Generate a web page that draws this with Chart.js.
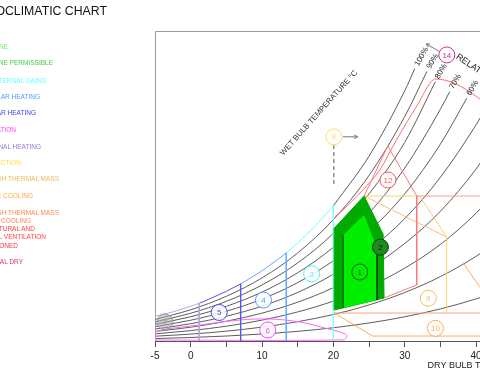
<!DOCTYPE html>
<html>
<head>
<meta charset="utf-8">
<title>Bioclimatic chart</title>
<script src="https://cdn.jsdelivr.net/npm/chart.js@4.4.1/dist/chart.umd.min.js"></script>
<style>
  html, body { margin: 0; padding: 0; background: #fff; }
  #page { position: relative; width: 480px; height: 380px; overflow: hidden; }
  #chart { position: absolute; left: 0; top: 0; }
  .note { position: absolute; width: 300px; text-align: right; white-space: nowrap;
          font-family: 'Liberation Sans', Arial, sans-serif; }
</style>
</head>
<body>
<div id="page">
  <canvas id="chart" width="560" height="380"></canvas>
</div>
<script>
// dry bulb temperature axis (deg C)
const temperatureTicks = [-5, 0, 5, 10, 15, 20, 25, 30, 35, 40, 45, 50];
const labelledTicks = [-5, 0, 10, 20, 30, 40];

// relative humidity curves, [dry bulb, humidity ratio g/kg]
const rhLabels = ['100%', '90%', '80%', '70%', '60%', '50%', '40%', '30%', '20%', '10%'];
const rh100 = [[20, 14.7], [25, 20.1], [30, 27.2], [31.4, 29.6]];
const rh90 = [[-5, 2.34], [0, 3.4], [5, 4.86], [10, 6.86], [15, 9.57], [20, 13.2], [25, 18.0], [30, 24.4], [33.1, 29.3]];
const rh80 = [[-5, 2.08], [0, 3.02], [5, 4.31], [10, 6.09], [15, 8.49], [20, 11.7], [25, 16.0], [30, 21.6], [34.3, 28.2]];
const rh70 = [[-5, 1.82], [0, 2.64], [5, 3.77], [10, 5.32], [15, 7.42], [20, 10.2], [25, 13.9], [30, 18.8], [35, 25.2], [36.3, 27.1]];
const rh60 = [[-5, 1.56], [0, 2.26], [5, 3.23], [10, 4.56], [15, 6.35], [20, 8.73], [25, 11.9], [30, 16.0], [35, 21.4], [38.7, 26.4]];
const rh50 = [[-5, 1.3], [0, 1.88], [5, 2.69], [10, 3.79], [15, 5.28], [20, 7.26], [25, 9.88], [30, 13.3], [35, 17.8], [40, 23.5], [41.6, 25.6]];
const rh40 = [[-5, 1.04], [0, 1.5], [5, 2.15], [10, 3.03], [15, 4.22], [20, 5.8], [25, 7.88], [30, 10.6], [35, 14.1], [40, 18.7], [45, 24.5]];
const rh30 = [[-5, 0.78], [0, 1.13], [5, 1.61], [10, 2.27], [15, 3.16], [20, 4.34], [25, 5.89], [30, 7.92], [35, 10.5], [40, 13.9], [45, 18.2], [50, 23.5]];
const rh20 = [[-5, 0.52], [0, 0.75], [5, 1.07], [10, 1.51], [15, 2.1], [20, 2.88], [25, 3.92], [30, 5.27], [35, 7.0], [40, 9.21], [45, 12.0], [50, 15.5]];
const rh10 = [[-5, 0.26], [0, 0.38], [5, 0.54], [10, 0.76], [15, 1.05], [20, 1.44], [25, 1.96], [30, 2.63], [35, 3.49], [40, 4.58], [45, 5.95], [50, 7.7]];

// strategy zones
const zoneComfort = [[21.37, 3.6], [21.37, 11.52], [24.31, 13.7], [26.13, 10.08], [26.13, 4.46], [21.37, 3.6]];
const zoneComfortLeft = [[21.37, 3.6], [21.37, 11.52]];
const zoneComfortRight = [[26.13, 10.08], [26.13, 4.46]];
const zonePermissible = [[20.11, 3.37], [20.11, 12.25], [24.31, 15.76], [26.97, 11.6], [27.1, 4.67], [20.11, 3.37]];
const zoneInternalGains = [[13.4, 0], [13.4, 9.59], [15, 10.65], [17.5, 12.53], [20, 14.7], [20, 0]];
const zonePassiveSolar = [[7, 0], [7, 6.21], [7.5, 6.43], [10, 7.63], [12.5, 9.03], [13.4, 9.59], [13.4, 0]];
const zoneActiveSolar = [[1.2, 0], [1.2, 4.1], [2.5, 4.52], [5, 5.4], [7, 6.21], [7, 0]];
const zoneHeating = [[-5, 0], [-5, 2.7], [-2.5, 3.16], [0, 3.77], [1.2, 4.1], [1.2, 0]];
const zoneHumidification = [[-5, 0.1], [-5, 0.98], [1.3, 1.74], [6.9, 2.28], [11.1, 2.39], [15.3, 2.07], [18.8, 1.41], [20.9, 0.98], [21.9, 0.6], [21.4, 0.12], [-5, 0.1]];
const zoneSunLink = [[20.07, 21.3], [20.07, 16.85]];
const zoneThermalMass = [[35.87, 3.04], [35.87, 11.3], [32.1, 15.76], [24.31, 15.76]];
const zoneEvaporative = [[24.31, 15.76], [35.87, 11.3]];
const zoneEvaporativeRight = [[38.1, 8.6], [40.5, 5.9], [43, 3.04]];
const zoneEvaporativeBase = [[20.11, 3.04], [25.52, 0.54], [48, 0.54]];
const zoneNightMass = [[20.11, 3.04], [48, 3.04]];
const zoneVentilation = [[24.31, 15.76], [27.62, 21.2], [31.68, 15.76], [31.68, 6.09], [27.06, 4.67]];
const zoneVentilationTop = [[31.68, 15.76], [48, 15.76]];
const zoneDry = [[20.21, 13.51], [21.33, 14.24], [24.13, 16.41], [26.5, 18.59], [28.84, 21.85], [31.64, 25.47], [34.34, 28.48], [46.1, 23.15]];

// numbered zone markers
const markerLabels = ['1', '2', '3', '4', '5', '6', '7', '8', '9', '10', '12', '14'];
const markerTemps = [23.7, 26.6, 16.95, 10.2, 4.0, 10.8, -3.6, 20.07, 33.3, 34.3, 27.65, 35.9];
const markerHumidity = [7.5, 10.2, 7.3, 4.45, 3.1, 1.2, 2.07, 22.2, 4.65, 1.38, 17.5, 31.1];

// legend (cut at the left edge of the picture)
const legendRows = ['COMFORT ZONE', 'COMFORT ZONE PERMISSIBLE', 'USE OF INTERNAL GAINS', 'PASSIVE SOLAR HEATING',
  'ACTIVE SOLAR HEATING', 'HUMIDIFICATION', 'CONVENTIONAL HEATING', 'SUN PROTECTION', 'HIGH THERMAL MASS',
  'EVAPORATIVE COOLING', 'HIGH THERMAL MASS', 'WITH NIGHT COOLING', 'NATURAL AND', 'MECHANICAL VENTILATION',
  'AIR CONDITIONED', 'CONVENTIONAL DRY'];

// layout / style
const legendColors = ['#77ee55', '#44cc44', '#66ffff', '#5599ff', '#4444ee', '#ff44ff', '#9977dd', '#ffdd44', '#eebb55',
  '#ffaa44', '#ff8855', '#ff8855', '#ff4444', '#ff4444', '#ff3344', '#dd3377'];
const legendRight = [8, 53, 46, 40, 36, 16, 41, 21, 59, 33, 59, 31, 35, 46, 18, 23];
const legendY = [47, 63, 81, 97, 113, 130, 147, 163, 179, 196, 213, 221, 229, 237, 246, 262];
const markerStroke = ['#1a4d1a', '#0d3d0d', '#55eeee', '#5599ff', '#4444ee', '#ff44ff', '#999999', '#ffdd66', '#eec060', '#ffaa55', '#ff5555', '#cc3388'];
const markerFill = ['rgba(0,0,0,0)', '#1f8a1f', 'rgba(255,255,255,0.85)', 'rgba(255,255,255,0.85)', 'rgba(255,255,255,0.85)',
  'rgba(255,255,255,0.85)', 'rgba(170,170,170,0.5)', 'rgba(255,255,255,0.85)', 'rgba(255,255,255,0.85)',
  'rgba(255,255,255,0.85)', 'rgba(255,255,255,0.85)', 'rgba(255,255,255,0.85)'];

const page = document.getElementById('page');
const addNote = (text, right, y, size, color) => {
  const d = document.createElement('div');
  d.className = 'note';
  d.textContent = text;
  d.style.left = (right - 300) + 'px';
  d.style.top = (y - size * 0.6) + 'px';
  d.style.fontSize = size + 'px';
  d.style.lineHeight = (size * 1.2) + 'px';
  d.style.color = color;
  page.appendChild(d);
};
addNote('BIOCLIMATIC CHART', 107, 11, 12.3, '#111');
legendRows.forEach((t, i) => addNote(t, legendRight[i], legendY[i], 6.5, legendColors[i]));

const xy = pts => pts.map(([x, y]) => ({ x, y }));
const line = (label, pts, color, extra = {}) => ({
  label,
  data: xy(pts),
  borderColor: color,
  backgroundColor: color,
  borderWidth: 1,
  pointRadius: 0,
  showLine: true,
  fill: false,
  ...extra,
});
const curve = (label, pts) => line(label, pts, '#4a4a4a', { borderWidth: 0.9, cubicInterpolationMode: 'monotone' });
const rhCurves = [rh100, rh90, rh80, rh70, rh60, rh50, rh40, rh30, rh20, rh10];

const datasets = [
  {
    label: 'zone markers',
    data: markerTemps.map((t, i) => ({ x: t, y: markerHumidity[i] })),
    pointRadius: 8,
    pointBackgroundColor: markerFill,
    pointBorderColor: markerStroke,
    pointBorderWidth: 1,
    showLine: false,
  },
  line('1 comfort edge left', zoneComfortLeft, '#0b3d0b'),
  line('1 comfort edge right', zoneComfortRight, '#0b3d0b'),
  line('1 comfort zone', zoneComfort, '#00ee00', { fill: 'shape', backgroundColor: '#00ee00', borderWidth: 0 }),
  line('2 comfort zone permissible', zonePermissible, '#00aa00', { fill: 'shape', backgroundColor: '#00aa00' }),
  line('7 conventional heating', zoneHeating, '#b9a6e6'),
  line('5 active solar heating', zoneActiveSolar, '#5555f0'),
  line('4 passive solar heating', zonePassiveSolar, '#66aaff'),
  line('3 internal gains', zoneInternalGains, '#77ffff'),
  line('6 humidification', zoneHumidification, '#ff66ff', { tension: 0.35 }),
  line('8 sun protection', zoneSunLink, '#555555', { borderDash: [4, 3] }),
  line('12 ventilation', zoneVentilation, '#ff7777'),
  line('12 ventilation top', zoneVentilationTop, '#ff9999'),
  line('14 dry', zoneDry, '#ff6e6e', { cubicInterpolationMode: 'monotone' }),
  line('9 thermal mass', zoneThermalMass, '#ffd070'),
  line('10 evaporative', zoneEvaporative, '#ffbb77'),
  line('10 evaporative right', zoneEvaporativeRight, '#ffaa66'),
  line('10 evaporative base', zoneEvaporativeBase, '#ffaa66'),
  line('11 night mass', zoneNightMass, '#ff9f70'),
  ...rhCurves.map((c, i) => curve(rhLabels[i], c)),
];

const annotate = {
  id: 'annotate',
  beforeDatasetsDraw(chart) {
    const { ctx, chartArea: a } = chart;
    ctx.save();
    ctx.strokeStyle = '#9a9a9a';
    ctx.lineWidth = 1;
    ctx.beginPath();
    ctx.moveTo(a.left + 0.5, a.bottom);
    ctx.lineTo(a.left + 0.5, a.top + 0.5);
    ctx.lineTo(a.right, a.top + 0.5);
    ctx.stroke();
    ctx.restore();
  },
  afterDatasetsDraw(chart) {
    const { ctx, scales: { x, y }, chartArea: a } = chart;
    const px = t => x.getPixelForValue(t);
    const py = w => y.getPixelForValue(w);
    ctx.save();

    // numbers inside markers
    ctx.textAlign = 'center';
    ctx.textBaseline = 'middle';
    ctx.font = "8px 'Liberation Sans', Arial, sans-serif";
    markerLabels.forEach((m, i) => {
      ctx.fillStyle = i === 1 ? '#062806' : markerStroke[i];
      ctx.fillText(m, px(markerTemps[i]), py(markerHumidity[i]) + 0.5);
    });

    // arrows
    const arrow = (t0, w0, t1, w1) => {
      const x0 = px(t0), y0 = py(w0), x1 = px(t1), y1 = py(w1);
      const ang = Math.atan2(y1 - y0, x1 - x0);
      ctx.strokeStyle = '#777';
      ctx.lineWidth = 1;
      ctx.beginPath();
      ctx.moveTo(x0, y0);
      ctx.lineTo(x1, y1);
      ctx.moveTo(x1 - 4 * Math.cos(ang - 0.5), y1 - 4 * Math.sin(ang - 0.5));
      ctx.lineTo(x1, y1);
      ctx.lineTo(x1 - 4 * Math.cos(ang + 0.5), y1 - 4 * Math.sin(ang + 0.5));
      ctx.stroke();
    };
    arrow(21.35, 22.2, 23.4, 22.2);
    arrow(34.9, 31.45, 33.0, 32.3);

    // rotated texts
    const rotated = (text, t, w, angle, align, size, color) => {
      ctx.save();
      ctx.translate(px(t), py(w));
      ctx.rotate(angle * Math.PI / 180);
      ctx.textAlign = align;
      ctx.textBaseline = 'middle';
      ctx.font = size + "px 'Liberation Sans', Arial, sans-serif";
      ctx.fillStyle = color;
      ctx.fillText(text, 0, 0);
      ctx.restore();
    };
    rhCurves.forEach((c, i) => {
      const [t, w] = c[c.length - 1];
      if (i < 5) rotated(rhLabels[i], t + 0.25, w + 0.35, -60, 'left', 8, '#222');
    });
    rotated('WET BULB TEMPERATURE °C', 17.97, 24.8, -48, 'center', 7.8, '#333');
    rotated('RELATIVE HUMIDITY %', 37.3, 31.0, 34, 'left', 9, '#222');

    ctx.font = "9px 'Liberation Sans', Arial, sans-serif";
    ctx.fillStyle = '#222';
    ctx.textAlign = 'left';
    ctx.textBaseline = 'middle';
    ctx.fillText('DRY BULB TEMPERATURE °C', px(33.2), a.bottom + 25);
    ctx.restore();
  },
};

new Chart(document.getElementById('chart'), {
  type: 'scatter',
  data: { datasets },
  options: {
    responsive: false,
    animation: false,
    events: [],
    layout: { padding: { left: 155, top: 31, right: 0, bottom: 0 } },
    plugins: { legend: { display: false }, tooltip: { enabled: false } },
    scales: {
      x: {
        type: 'linear',
        min: -5,
        max: 50.5,
        afterBuildTicks: scale => { scale.ticks = temperatureTicks.map(v => ({ value: v })); },
        afterFit: scale => { scale.height = 39; },
        ticks: {
          autoSkip: false,
          maxRotation: 0,
          color: '#222',
          font: { size: 10 },
          padding: 3,
          callback: v => (labelledTicks.includes(v) ? String(v) : ''),
        },
        grid: { drawOnChartArea: false, drawTicks: true, tickLength: 6, color: '#555' },
        border: { color: '#555' },
      },
      y: { type: 'linear', min: 0, max: 33.7, display: false },
    },
  },
  plugins: [annotate],
});
</script>
</body>
</html>
